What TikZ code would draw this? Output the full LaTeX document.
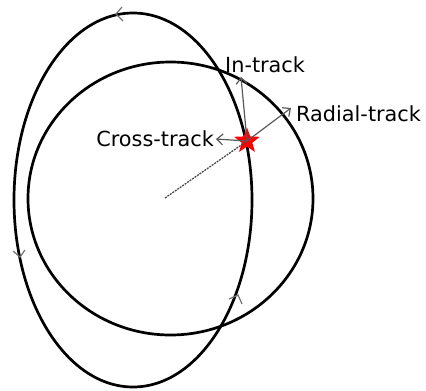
\documentclass[tikz,border=0pt]{standalone}
\usepackage{fontspec}
\setmainfont{DejaVu Sans}
\usetikzlibrary{shapes.geometric,arrows.meta}
\tikzset{
  orbit/.style={draw=black, line width=2.7pt},
  vec/.style={draw=black!65, line width=1.2pt, -{Straight Barb[length=6pt,width=11pt,line width=1.2pt]}},
  chev/.style={draw=black!55, line width=1.2pt},
  dashline/.style={draw=black!70, line width=1.3pt, dash pattern=on 2pt off 1pt},
  lab/.style={inner sep=0pt, font=\fontsize{20.8}{24}\selectfont},
  sat/.style={star, star points=5, star point ratio=2.4, fill=red, draw=none, minimum size=27pt, inner sep=0pt}
}
\begin{document}
\begin{tikzpicture}[x=1pt,y=-1pt]
\useasboundingbox (0,0) rectangle (426,391);
% orbits
\draw[orbit] (170.5,198.5) ellipse [x radius=142.5pt, y radius=136.5pt];
\draw[orbit] (133,200) ellipse [x radius=119pt, y radius=187pt];
% direction chevrons on outer orbit
\draw[chev] (122,7) -- (116,14) -- (123,21);
\draw[chev] (13,251) -- (20,257) -- (25,250);
\draw[chev] (229,299) -- (238,295) -- (242,304);
% centre and satellite
\coordinate (c) at (165,198);
\node[sat] (s) at (247,141) {};
\coordinate (rt) at (291,108);
\coordinate (it) at (241,77);
\coordinate (ct) at (216,139);
\draw[dashline] (c) -- (s.center);
\draw[vec] (s.center) -- (rt);
\draw[vec] (s.center) -- (it);
\draw[vec] (s.center) -- (ct);
% labels
\node[lab, anchor=base west] (lin) at (225,72) {In-track};
\node[lab, anchor=base west] (lrad) at (296,121) {Radial-track};
\node[lab, anchor=base east] (lcross) at (214,146) {Cross-track};
\end{tikzpicture}
\end{document}
